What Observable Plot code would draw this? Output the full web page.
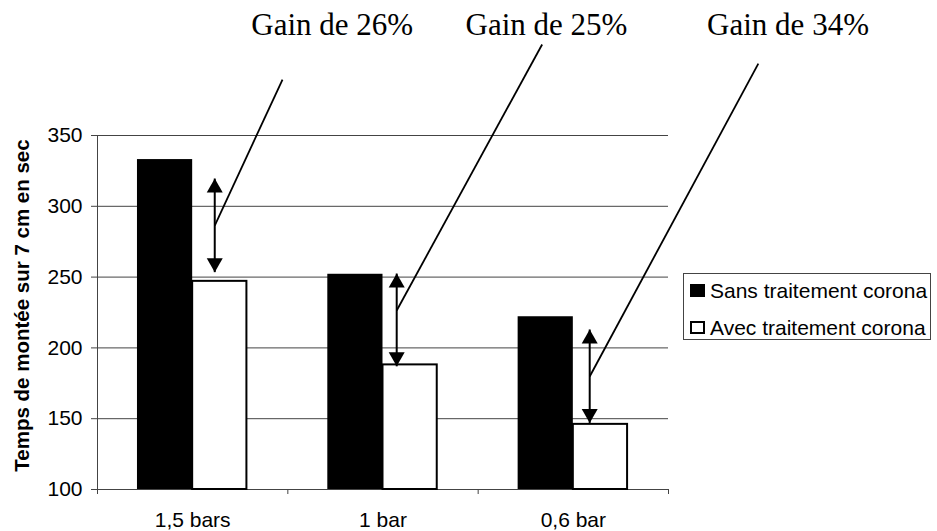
<!DOCTYPE html>
<html>
<head>
<meta charset="utf-8">
<script src="https://cdn.jsdelivr.net/npm/d3@7"></script>
<script src="https://cdn.jsdelivr.net/npm/@observablehq/plot@0.6"></script>
<style>
  html, body { margin: 0; padding: 0; background: #fff; }
  #wrap { position: relative; width: 937px; height: 531px; }
  .legend { position: absolute; left: 683px; top: 273px; width: 246px; height: 65px;
    border: 1px solid #444; font-family: "Liberation Sans", Arial, sans-serif; font-size: 21px; color: #000; }
  .legend .item { position: absolute; left: 6px; height: 24px; line-height: 24px; white-space: nowrap; }
  .legend .sw { position: absolute; left: 0; top: 5px; width: 15px; height: 13px; box-sizing: border-box; }
  .legend .lbl { position: absolute; left: 20px; top: 0; }
</style>
</head>
<body>
<div id="wrap"></div>
<script>
// ---- data ----
const categories = ["1,5 bars", "1 bar", "0,6 bar"];
const seriesNames = ["Sans traitement corona", "Avec traitement corona"];
const sansValues = [333, 252, 222];
const avecValues = [247, 188, 146];
const yTicks = [100, 150, 200, 250, 300, 350];
const yTitle = "Temps de montée sur 7 cm en sec";

// annotations (data units: x = category index, y = seconds)
const gainLabels = ["Gain de 26%", "Gain de 25%", "Gain de 34%"];
const gainLabelX = [0.733, 1.859, 3.128];
const gainLabelY = [421, 421, 421];
const arrowX = [0.116, 1.072, 2.086];
const arrowTop = [319.6, 252.5, 213];
const arrowBottom = [253.5, 187, 147];
const leaderStartY = [286.4, 226.4, 179.8];
const leaderEndX = [0.472, 1.836, 2.972];
const leaderEndY = [389.5, 414.3, 400.8];

// ---- tables ----
const sansRows = categories.map((c, i) => ({i, v: sansValues[i]}));
const avecRows = categories.map((c, i) => ({i, v: avecValues[i]}));
const arrows = gainLabels.map((g, i) => ({
  x: arrowX[i], top: arrowTop[i], bottom: arrowBottom[i],
  ly: leaderStartY[i], ex: leaderEndX[i], ey: leaderEndY[i],
  label: g, lx: gainLabelX[i], lyy: gainLabelY[i]
}));

const upTip = {draw(ctx) { ctx.moveTo(0, 0); ctx.lineTo(8, 14); ctx.lineTo(-8, 14); ctx.closePath(); }};
const downTip = {draw(ctx) { ctx.moveTo(0, 0); ctx.lineTo(8, -14); ctx.lineTo(-8, -14); ctx.closePath(); }};

const barW = 0.29;
const sansFont = "'Liberation Sans', Arial, sans-serif";
const serifFont = "'Liberation Serif', 'Times New Roman', serif";

const chart = Plot.plot({
  width: 937,
  height: 531,
  marginTop: 135,
  marginBottom: 42,
  marginLeft: 97,
  marginRight: 269,
  x: {type: "linear", domain: [-0.5, 2.5]},
  y: {domain: [100, 350]},
  style: {fontFamily: sansFont, fontSize: "21px", color: "#000", background: "#fff", overflow: "visible"},
  marks: [
    Plot.ruleY(yTicks, {stroke: "#444", strokeWidth: 1}),
    Plot.ruleX([-0.5], {y1: 100, y2: 350, stroke: "#444"}),
    Plot.rect(sansRows, {x1: d => d.i - barW, x2: d => d.i, y1: 100, y2: "v", fill: "black"}),
    Plot.rect(avecRows, {x1: d => d.i, x2: d => d.i + barW - 0.005, y1: 100, y2: "v", fill: "white", stroke: "black", strokeWidth: 2}),
    Plot.axisY({ticks: yTicks, tickSize: 6, tickPadding: 9, label: null, stroke: "#444"}),
    Plot.axisX({ticks: [-0.5, 0.5, 1.5, 2.5], tickSize: 5, tickFormat: () => "", label: null, stroke: "#444"}),
    Plot.axisX({ticks: [0, 1, 2], tickSize: 0, tickPadding: 23, tickFormat: i => categories[i], label: null}),
    Plot.text([yTitle], {text: d => d, frameAnchor: "left", textAnchor: "middle", rotate: -90, dx: -75, dy: -7, fontWeight: "bold", fontSize: 20.5}),
    // leader lines
    Plot.link(arrows, {x1: "x", y1: "ly", x2: "ex", y2: "ey", stroke: "black", strokeWidth: 1.8}),
    // double arrows
    Plot.link(arrows, {x1: "x", y1: "top", x2: "x", y2: "bottom", stroke: "black", strokeWidth: 2}),
    Plot.dot(arrows, {x: "x", y: "top", symbol: upTip, fill: "black", stroke: null}),
    Plot.dot(arrows, {x: "x", y: "bottom", symbol: downTip, fill: "black", stroke: null}),
    // gain labels
    Plot.text(arrows, {x: "lx", y: "lyy", text: "label", fontFamily: serifFont, fontSize: 31, lineAnchor: "bottom", textAnchor: "middle"})
  ]
});

const wrap = document.getElementById("wrap");
wrap.appendChild(chart);

// legend
const legend = document.createElement("div");
legend.className = "legend";
const swStyles = [
  {background: "#000", border: "none"},
  {background: "#fff", border: "2px solid #000"}
];
seriesNames.forEach((name, i) => {
  const item = document.createElement("div");
  item.className = "item";
  item.style.top = (5 + i * 37) + "px";
  const sw = document.createElement("div");
  sw.className = "sw";
  sw.style.background = swStyles[i].background;
  sw.style.border = swStyles[i].border;
  const lbl = document.createElement("span");
  lbl.className = "lbl";
  lbl.textContent = name;
  item.appendChild(sw);
  item.appendChild(lbl);
  legend.appendChild(item);
});
wrap.appendChild(legend);
</script>
</body>
</html>
